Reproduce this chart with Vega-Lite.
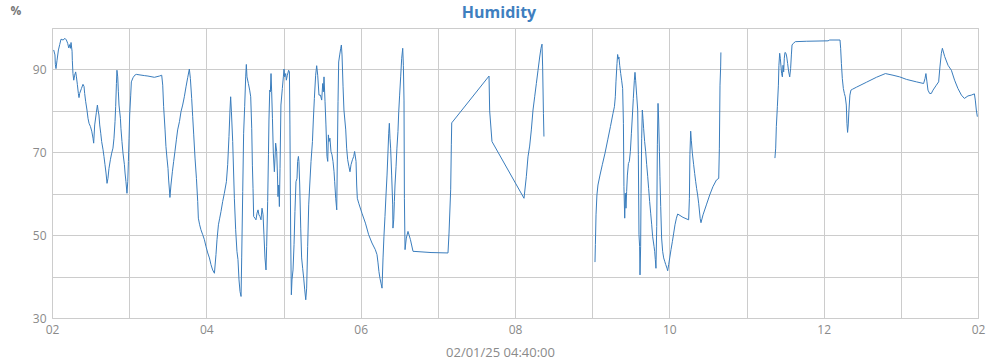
{
"$schema":"https://vega.github.io/schema/vega-lite/v6.json",
"width":926,"height":290,
"autosize":"none",
"padding":{"left":52,"top":28,"right":22,"bottom":42},
"background":"white",
"title":{"text":"Humidity","anchor":"middle","frame":"group","dx":-16,"offset":-17,"fontSize":16,"fontWeight":"bold","color":"#3f7fbf","font":"Open Sans"},
"config":{"view":{"stroke":"#cccccc"},"font":"Open Sans"},
"data":{"values":[
{"t":"2025-02-01T02:01:18","v":94.7,"s":1},{"t":"2025-02-01T02:02:18","v":93.5,"s":1},{"t":"2025-02-01T02:02:36","v":91.2,"s":1},{"t":"2025-02-01T02:03:06","v":90.2,"s":1},{"t":"2025-02-01T02:03:54","v":92.2,"s":1},{"t":"2025-02-01T02:05:00","v":94.7,"s":1},{"t":"2025-02-01T02:06:00","v":96,"s":1},{"t":"2025-02-01T02:07:00","v":97.3,"s":1},{"t":"2025-02-01T02:08:36","v":97.1,"s":1},{"t":"2025-02-01T02:10:06","v":97.5,"s":1},{"t":"2025-02-01T02:11:12","v":97.1,"s":1},{"t":"2025-02-01T02:12:12","v":96.3,"s":1},{"t":"2025-02-01T02:13:00","v":95.2,"s":1},{"t":"2025-02-01T02:13:48","v":96,"s":1},{"t":"2025-02-01T02:14:18","v":95.1,"s":1},{"t":"2025-02-01T02:14:48","v":96.5,"s":1},{"t":"2025-02-01T02:15:36","v":94.4,"s":1},{"t":"2025-02-01T02:15:48","v":92.2,"s":1},{"t":"2025-02-01T02:16:18","v":89,"s":1},{"t":"2025-02-01T02:16:54","v":87.4,"s":1},{"t":"2025-02-01T02:17:36","v":88.6,"s":1},{"t":"2025-02-01T02:18:24","v":89.4,"s":1},{"t":"2025-02-01T02:19:00","v":88.2,"s":1},{"t":"2025-02-01T02:19:42","v":86.4,"s":1},{"t":"2025-02-01T02:20:30","v":84.2,"s":1},{"t":"2025-02-01T02:21:00","v":83.2,"s":1},{"t":"2025-02-01T02:21:30","v":84.2,"s":1},{"t":"2025-02-01T02:22:54","v":85.4,"s":1},{"t":"2025-02-01T02:24:06","v":86.4,"s":1},{"t":"2025-02-01T02:24:54","v":85.9,"s":1},{"t":"2025-02-01T02:25:24","v":84.2,"s":1},{"t":"2025-02-01T02:26:12","v":82.2,"s":1},{"t":"2025-02-01T02:27:12","v":80.2,"s":1},{"t":"2025-02-01T02:28:00","v":78.2,"s":1},{"t":"2025-02-01T02:28:48","v":77,"s":1},{"t":"2025-02-01T02:29:54","v":76.2,"s":1},{"t":"2025-02-01T02:30:54","v":75.1,"s":1},{"t":"2025-02-01T02:31:54","v":73.4,"s":1},{"t":"2025-02-01T02:32:24","v":72.2,"s":1},{"t":"2025-02-01T02:33:12","v":76.6,"s":1},{"t":"2025-02-01T02:34:30","v":79.6,"s":1},{"t":"2025-02-01T02:35:18","v":81.4,"s":1},{"t":"2025-02-01T02:35:48","v":80.2,"s":1},{"t":"2025-02-01T02:36:30","v":79,"s":1},{"t":"2025-02-01T02:37:06","v":76.6,"s":1},{"t":"2025-02-01T02:37:54","v":74.6,"s":1},{"t":"2025-02-01T02:38:36","v":72.6,"s":1},{"t":"2025-02-01T02:39:42","v":70.6,"s":1},{"t":"2025-02-01T02:40:24","v":69,"s":1},{"t":"2025-02-01T02:41:12","v":67,"s":1},{"t":"2025-02-01T02:42:00","v":65,"s":1},{"t":"2025-02-01T02:42:48","v":62.5,"s":1},{"t":"2025-02-01T02:43:30","v":63.7,"s":1},{"t":"2025-02-01T02:44:18","v":66.1,"s":1},{"t":"2025-02-01T02:45:24","v":68.2,"s":1},{"t":"2025-02-01T02:46:24","v":69.8,"s":1},{"t":"2025-02-01T02:47:24","v":71,"s":1},{"t":"2025-02-01T02:48:12","v":73.4,"s":1},{"t":"2025-02-01T02:49:00","v":77.4,"s":1},{"t":"2025-02-01T02:49:30","v":81,"s":1},{"t":"2025-02-01T02:50:06","v":86.6,"s":1},{"t":"2025-02-01T02:50:30","v":89.8,"s":1},{"t":"2025-02-01T02:51:06","v":88.2,"s":1},{"t":"2025-02-01T02:51:36","v":84.6,"s":1},{"t":"2025-02-01T02:52:06","v":81.4,"s":1},{"t":"2025-02-01T02:53:12","v":78.2,"s":1},{"t":"2025-02-01T02:53:36","v":75.8,"s":1},{"t":"2025-02-01T02:54:24","v":72.6,"s":1},{"t":"2025-02-01T02:55:12","v":69.8,"s":1},{"t":"2025-02-01T02:56:18","v":67,"s":1},{"t":"2025-02-01T02:56:48","v":65,"s":1},{"t":"2025-02-01T02:57:30","v":62.9,"s":1},{"t":"2025-02-01T02:58:18","v":60.1,"s":1},{"t":"2025-02-01T02:58:54","v":62.9,"s":1},{"t":"2025-02-01T02:59:24","v":67.8,"s":1},{"t":"2025-02-01T02:59:54","v":73.4,"s":1},{"t":"2025-02-01T03:00:24","v":79,"s":1},{"t":"2025-02-01T03:01:12","v":83.8,"s":1},{"t":"2025-02-01T03:01:42","v":87,"s":1},{"t":"2025-02-01T03:03:00","v":88,"s":1},{"t":"2025-02-01T03:04:18","v":88.6,"s":1},{"t":"2025-02-01T03:05:36","v":88.8,"s":1},{"t":"2025-02-01T03:12:06","v":88.5,"s":1},{"t":"2025-02-01T03:14:36","v":88.4,"s":1},{"t":"2025-02-01T03:19:36","v":88.1,"s":1},{"t":"2025-02-01T03:23:30","v":88.4,"s":1},{"t":"2025-02-01T03:25:18","v":88.6,"s":1},{"t":"2025-02-01T03:26:06","v":86.2,"s":1},{"t":"2025-02-01T03:26:48","v":81,"s":1},{"t":"2025-02-01T03:27:54","v":75.4,"s":1},{"t":"2025-02-01T03:28:36","v":71.4,"s":1},{"t":"2025-02-01T03:29:24","v":68.6,"s":1},{"t":"2025-02-01T03:30:12","v":66.1,"s":1},{"t":"2025-02-01T03:30:42","v":63.3,"s":1},{"t":"2025-02-01T03:31:18","v":60.9,"s":1},{"t":"2025-02-01T03:31:42","v":59.1,"s":1},{"t":"2025-02-01T03:32:30","v":62.1,"s":1},{"t":"2025-02-01T03:33:36","v":65.3,"s":1},{"t":"2025-02-01T03:34:36","v":67.8,"s":1},{"t":"2025-02-01T03:35:36","v":70.2,"s":1},{"t":"2025-02-01T03:36:42","v":73,"s":1},{"t":"2025-02-01T03:37:42","v":75.4,"s":1},{"t":"2025-02-01T03:39:06","v":77.4,"s":1},{"t":"2025-02-01T03:40:18","v":79.8,"s":1},{"t":"2025-02-01T03:41:36","v":81.4,"s":1},{"t":"2025-02-01T03:42:54","v":83.4,"s":1},{"t":"2025-02-01T03:44:12","v":85.8,"s":1},{"t":"2025-02-01T03:45:30","v":88,"s":1},{"t":"2025-02-01T03:46:48","v":90.1,"s":1},{"t":"2025-02-01T03:47:36","v":87.8,"s":1},{"t":"2025-02-01T03:48:36","v":83,"s":1},{"t":"2025-02-01T03:49:24","v":78.6,"s":1},{"t":"2025-02-01T03:50:12","v":74.2,"s":1},{"t":"2025-02-01T03:51:12","v":68.6,"s":1},{"t":"2025-02-01T03:52:18","v":63.7,"s":1},{"t":"2025-02-01T03:53:18","v":58.1,"s":1},{"t":"2025-02-01T03:53:48","v":54.1,"s":1},{"t":"2025-02-01T03:54:48","v":52.5,"s":1},{"t":"2025-02-01T03:55:48","v":51.3,"s":1},{"t":"2025-02-01T03:57:12","v":50.1,"s":1},{"t":"2025-02-01T03:58:30","v":48.9,"s":1},{"t":"2025-02-01T03:59:42","v":47.3,"s":1},{"t":"2025-02-01T04:01:06","v":45.7,"s":1},{"t":"2025-02-01T04:02:24","v":44.5,"s":1},{"t":"2025-02-01T04:03:36","v":42.9,"s":1},{"t":"2025-02-01T04:04:54","v":41.6,"s":1},{"t":"2025-02-01T04:06:18","v":40.8,"s":1},{"t":"2025-02-01T04:07:30","v":45.3,"s":1},{"t":"2025-02-01T04:08:18","v":48.9,"s":1},{"t":"2025-02-01T04:09:24","v":52.5,"s":1},{"t":"2025-02-01T04:10:24","v":54.1,"s":1},{"t":"2025-02-01T04:11:24","v":55.7,"s":1},{"t":"2025-02-01T04:12:42","v":58.1,"s":1},{"t":"2025-02-01T04:14:00","v":60.1,"s":1},{"t":"2025-02-01T04:15:36","v":62.9,"s":1},{"t":"2025-02-01T04:16:36","v":67,"s":1},{"t":"2025-02-01T04:17:36","v":73.8,"s":1},{"t":"2025-02-01T04:18:24","v":80.2,"s":1},{"t":"2025-02-01T04:18:54","v":83.4,"s":1},{"t":"2025-02-01T04:19:30","v":79.8,"s":1},{"t":"2025-02-01T04:20:30","v":72.6,"s":1},{"t":"2025-02-01T04:21:48","v":58.9,"s":1},{"t":"2025-02-01T04:22:48","v":51.3,"s":1},{"t":"2025-02-01T04:23:48","v":46.1,"s":1},{"t":"2025-02-01T04:24:36","v":44.1,"s":1},{"t":"2025-02-01T04:25:24","v":39.2,"s":1},{"t":"2025-02-01T04:26:12","v":36.4,"s":1},{"t":"2025-02-01T04:27:00","v":35.2,"s":1},{"t":"2025-02-01T04:27:30","v":44.5,"s":1},{"t":"2025-02-01T04:28:18","v":60.5,"s":1},{"t":"2025-02-01T04:29:00","v":74.6,"s":1},{"t":"2025-02-01T04:29:48","v":81,"s":1},{"t":"2025-02-01T04:30:36","v":88.2,"s":1},{"t":"2025-02-01T04:31:06","v":91.2,"s":1},{"t":"2025-02-01T04:31:36","v":88.2,"s":1},{"t":"2025-02-01T04:32:42","v":86.6,"s":1},{"t":"2025-02-01T04:33:42","v":85,"s":1},{"t":"2025-02-01T04:34:30","v":83.4,"s":1},{"t":"2025-02-01T04:35:18","v":75.8,"s":1},{"t":"2025-02-01T04:35:48","v":66.9,"s":1},{"t":"2025-02-01T04:36:18","v":61.3,"s":1},{"t":"2025-02-01T04:36:48","v":54.5,"s":1},{"t":"2025-02-01T04:37:48","v":54.1,"s":1},{"t":"2025-02-01T04:38:36","v":53.7,"s":1},{"t":"2025-02-01T04:39:24","v":55.3,"s":1},{"t":"2025-02-01T04:40:12","v":56.1,"s":1},{"t":"2025-02-01T04:40:54","v":54.9,"s":1},{"t":"2025-02-01T04:41:42","v":54.5,"s":1},{"t":"2025-02-01T04:42:30","v":53.7,"s":1},{"t":"2025-02-01T04:43:18","v":56.5,"s":1},{"t":"2025-02-01T04:44:06","v":54.9,"s":1},{"t":"2025-02-01T04:44:48","v":50.1,"s":1},{"t":"2025-02-01T04:45:36","v":44.5,"s":1},{"t":"2025-02-01T04:46:24","v":41.6,"s":1},{"t":"2025-02-01T04:46:54","v":47.3,"s":1},{"t":"2025-02-01T04:47:42","v":58.1,"s":1},{"t":"2025-02-01T04:48:18","v":69.4,"s":1},{"t":"2025-02-01T04:48:42","v":77.8,"s":1},{"t":"2025-02-01T04:49:18","v":85,"s":1},{"t":"2025-02-01T04:49:48","v":84.6,"s":1},{"t":"2025-02-01T04:50:18","v":89,"s":1},{"t":"2025-02-01T04:50:48","v":84.6,"s":1},{"t":"2025-02-01T04:51:24","v":78.2,"s":1},{"t":"2025-02-01T04:52:06","v":69.8,"s":1},{"t":"2025-02-01T04:52:54","v":65.3,"s":1},{"t":"2025-02-01T04:53:24","v":68.6,"s":1},{"t":"2025-02-01T04:53:54","v":72.2,"s":1},{"t":"2025-02-01T04:54:42","v":70.2,"s":1},{"t":"2025-02-01T04:55:18","v":64.5,"s":1},{"t":"2025-02-01T04:55:42","v":59.3,"s":1},{"t":"2025-02-01T04:56:18","v":62.1,"s":1},{"t":"2025-02-01T04:56:48","v":56.9,"s":1},{"t":"2025-02-01T04:57:18","v":66.1,"s":1},{"t":"2025-02-01T04:58:00","v":81.4,"s":1},{"t":"2025-02-01T04:59:06","v":85.4,"s":1},{"t":"2025-02-01T04:59:54","v":88.2,"s":1},{"t":"2025-02-01T05:00:24","v":90.1,"s":1},{"t":"2025-02-01T05:00:54","v":88.2,"s":1},{"t":"2025-02-01T05:01:42","v":89,"s":1},{"t":"2025-02-01T05:02:12","v":87.4,"s":1},{"t":"2025-02-01T05:03:00","v":88.6,"s":1},{"t":"2025-02-01T05:04:00","v":89.8,"s":1},{"t":"2025-02-01T05:04:36","v":89.4,"s":1},{"t":"2025-02-01T05:05:00","v":76.6,"s":1},{"t":"2025-02-01T05:05:36","v":49.3,"s":1},{"t":"2025-02-01T05:06:06","v":35.6,"s":1},{"t":"2025-02-01T05:06:36","v":39.2,"s":1},{"t":"2025-02-01T05:07:24","v":41.6,"s":1},{"t":"2025-02-01T05:08:12","v":47.7,"s":1},{"t":"2025-02-01T05:08:54","v":55.7,"s":1},{"t":"2025-02-01T05:09:42","v":62.9,"s":1},{"t":"2025-02-01T05:10:30","v":63.7,"s":1},{"t":"2025-02-01T05:11:00","v":67.8,"s":1},{"t":"2025-02-01T05:11:36","v":69,"s":1},{"t":"2025-02-01T05:12:00","v":67.8,"s":1},{"t":"2025-02-01T05:12:36","v":62.1,"s":1},{"t":"2025-02-01T05:13:24","v":51.7,"s":1},{"t":"2025-02-01T05:14:06","v":44.5,"s":1},{"t":"2025-02-01T05:14:54","v":42,"s":1},{"t":"2025-02-01T05:15:42","v":39.6,"s":1},{"t":"2025-02-01T05:16:30","v":36.8,"s":1},{"t":"2025-02-01T05:17:18","v":34.4,"s":1},{"t":"2025-02-01T05:18:00","v":37.2,"s":1},{"t":"2025-02-01T05:18:48","v":47.3,"s":1},{"t":"2025-02-01T05:19:36","v":57.3,"s":1},{"t":"2025-02-01T05:20:24","v":62.1,"s":1},{"t":"2025-02-01T05:21:24","v":67.8,"s":1},{"t":"2025-02-01T05:22:30","v":72.6,"s":1},{"t":"2025-02-01T05:23:12","v":77.8,"s":1},{"t":"2025-02-01T05:24:00","v":83,"s":1},{"t":"2025-02-01T05:25:00","v":88.6,"s":1},{"t":"2025-02-01T05:25:48","v":90.9,"s":1},{"t":"2025-02-01T05:26:36","v":88.6,"s":1},{"t":"2025-02-01T05:27:36","v":83.8,"s":1},{"t":"2025-02-01T05:28:42","v":83.8,"s":1},{"t":"2025-02-01T05:29:42","v":82.6,"s":1},{"t":"2025-02-01T05:30:30","v":86.6,"s":1},{"t":"2025-02-01T05:31:00","v":84.6,"s":1},{"t":"2025-02-01T05:31:30","v":88.2,"s":1},{"t":"2025-02-01T05:32:18","v":82.2,"s":1},{"t":"2025-02-01T05:33:00","v":76.6,"s":1},{"t":"2025-02-01T05:33:48","v":69,"s":1},{"t":"2025-02-01T05:34:24","v":67.8,"s":1},{"t":"2025-02-01T05:34:54","v":74.2,"s":1},{"t":"2025-02-01T05:35:24","v":72.6,"s":1},{"t":"2025-02-01T05:36:06","v":73.4,"s":1},{"t":"2025-02-01T05:36:54","v":70.2,"s":1},{"t":"2025-02-01T05:37:42","v":69.4,"s":1},{"t":"2025-02-01T05:38:30","v":67.8,"s":1},{"t":"2025-02-01T05:39:18","v":65.3,"s":1},{"t":"2025-02-01T05:39:48","v":62.9,"s":1},{"t":"2025-02-01T05:40:36","v":58.9,"s":1},{"t":"2025-02-01T05:41:24","v":56.1,"s":1},{"t":"2025-02-01T05:41:54","v":69.8,"s":1},{"t":"2025-02-01T05:42:24","v":82.2,"s":1},{"t":"2025-02-01T05:42:54","v":91.8,"s":1},{"t":"2025-02-01T05:43:42","v":93.5,"s":1},{"t":"2025-02-01T05:44:30","v":95.1,"s":1},{"t":"2025-02-01T05:45:00","v":95.9,"s":1},{"t":"2025-02-01T05:45:30","v":93.5,"s":1},{"t":"2025-02-01T05:46:18","v":85.8,"s":1},{"t":"2025-02-01T05:47:00","v":80.2,"s":1},{"t":"2025-02-01T05:48:24","v":75.4,"s":1},{"t":"2025-02-01T05:49:06","v":71,"s":1},{"t":"2025-02-01T05:49:54","v":68.2,"s":1},{"t":"2025-02-01T05:50:54","v":66.5,"s":1},{"t":"2025-02-01T05:51:42","v":65.3,"s":1},{"t":"2025-02-01T05:52:30","v":67,"s":1},{"t":"2025-02-01T05:53:36","v":68.2,"s":1},{"t":"2025-02-01T05:54:36","v":69,"s":1},{"t":"2025-02-01T05:55:18","v":70.2,"s":1},{"t":"2025-02-01T05:56:24","v":67.8,"s":1},{"t":"2025-02-01T05:56:54","v":62.1,"s":1},{"t":"2025-02-01T05:57:24","v":58.9,"s":1},{"t":"2025-02-01T05:58:30","v":57.7,"s":1},{"t":"2025-02-01T06:01:00","v":55.3,"s":1},{"t":"2025-02-01T06:03:42","v":52.9,"s":1},{"t":"2025-02-01T06:06:12","v":50.1,"s":1},{"t":"2025-02-01T06:08:48","v":48.1,"s":1},{"t":"2025-02-01T06:11:24","v":46.5,"s":1},{"t":"2025-02-01T06:12:42","v":45.3,"s":1},{"t":"2025-02-01T06:13:30","v":43.3,"s":1},{"t":"2025-02-01T06:14:12","v":41.2,"s":1},{"t":"2025-02-01T06:15:00","v":39.6,"s":1},{"t":"2025-02-01T06:15:48","v":38.4,"s":1},{"t":"2025-02-01T06:16:36","v":37.2,"s":1},{"t":"2025-02-01T06:17:24","v":44.5,"s":1},{"t":"2025-02-01T06:18:06","v":49.7,"s":1},{"t":"2025-02-01T06:18:54","v":54.5,"s":1},{"t":"2025-02-01T06:19:42","v":59.7,"s":1},{"t":"2025-02-01T06:20:30","v":64.5,"s":1},{"t":"2025-02-01T06:21:12","v":69.8,"s":1},{"t":"2025-02-01T06:21:48","v":74.6,"s":1},{"t":"2025-02-01T06:22:18","v":77,"s":1},{"t":"2025-02-01T06:22:48","v":73.4,"s":1},{"t":"2025-02-01T06:23:18","v":71,"s":1},{"t":"2025-02-01T06:24:06","v":64.5,"s":1},{"t":"2025-02-01T06:24:54","v":57.3,"s":1},{"t":"2025-02-01T06:25:06","v":51.7,"s":1},{"t":"2025-02-01T06:25:42","v":53.7,"s":1},{"t":"2025-02-01T06:26:12","v":58.1,"s":1},{"t":"2025-02-01T06:26:42","v":62.1,"s":1},{"t":"2025-02-01T06:27:30","v":66.5,"s":1},{"t":"2025-02-01T06:28:12","v":71,"s":1},{"t":"2025-02-01T06:29:00","v":75,"s":1},{"t":"2025-02-01T06:29:36","v":79.8,"s":1},{"t":"2025-02-01T06:30:18","v":83.8,"s":1},{"t":"2025-02-01T06:31:06","v":88.2,"s":1},{"t":"2025-02-01T06:31:54","v":92.7,"s":1},{"t":"2025-02-01T06:32:42","v":95.1,"s":1},{"t":"2025-02-01T06:33:12","v":91,"s":1},{"t":"2025-02-01T06:33:42","v":82.6,"s":1},{"t":"2025-02-01T06:34:00","v":58.9,"s":1},{"t":"2025-02-01T06:34:30","v":46.5,"s":1},{"t":"2025-02-01T06:35:30","v":49.3,"s":1},{"t":"2025-02-01T06:36:48","v":50.9,"s":1},{"t":"2025-02-01T06:38:42","v":48.9,"s":1},{"t":"2025-02-01T06:40:42","v":46.1,"s":1},{"t":"2025-02-01T06:54:42","v":45.8,"s":1},{"t":"2025-02-01T07:07:54","v":45.7,"s":1},{"t":"2025-02-01T07:08:42","v":50.5,"s":1},{"t":"2025-02-01T07:10:00","v":61.1,"s":1},{"t":"2025-02-01T07:10:30","v":71.8,"s":1},{"t":"2025-02-01T07:10:48","v":77.1,"s":1},{"t":"2025-02-01T07:39:48","v":88.4,"s":1},{"t":"2025-02-01T07:40:18","v":80,"s":1},{"t":"2025-02-01T07:42:06","v":72.6,"s":1},{"t":"2025-02-01T08:07:00","v":58.9,"s":1},{"t":"2025-02-01T08:08:48","v":64.1,"s":1},{"t":"2025-02-01T08:10:06","v":68.9,"s":1},{"t":"2025-02-01T08:11:24","v":71.5,"s":1},{"t":"2025-02-01T08:12:42","v":75.4,"s":1},{"t":"2025-02-01T08:14:00","v":80.2,"s":1},{"t":"2025-02-01T08:15:18","v":83.4,"s":1},{"t":"2025-02-01T08:16:36","v":86.6,"s":1},{"t":"2025-02-01T08:17:54","v":89.8,"s":1},{"t":"2025-02-01T08:19:12","v":93,"s":1},{"t":"2025-02-01T08:20:12","v":95.1,"s":1},{"t":"2025-02-01T08:21:00","v":96.1,"s":1},{"t":"2025-02-01T08:21:30","v":90.6,"s":1},{"t":"2025-02-01T08:22:06","v":79.4,"s":1},{"t":"2025-02-01T08:22:30","v":73.8,"s":1},
{"t":"2025-02-01T09:02:12","v":43.5,"s":2},{"t":"2025-02-01T09:02:30","v":47.7,"s":2},{"t":"2025-02-01T09:03:00","v":54.9,"s":2},{"t":"2025-02-01T09:03:42","v":59.7,"s":2},{"t":"2025-02-01T09:04:30","v":62.1,"s":2},{"t":"2025-02-01T09:06:06","v":64.5,"s":2},{"t":"2025-02-01T09:07:54","v":67,"s":2},{"t":"2025-02-01T09:10:00","v":69.8,"s":2},{"t":"2025-02-01T09:12:06","v":73,"s":2},{"t":"2025-02-01T09:14:12","v":76.2,"s":2},{"t":"2025-02-01T09:16:12","v":79.4,"s":2},{"t":"2025-02-01T09:17:18","v":81,"s":2},{"t":"2025-02-01T09:18:00","v":83.4,"s":2},{"t":"2025-02-01T09:18:30","v":87,"s":2},{"t":"2025-02-01T09:19:18","v":91.4,"s":2},{"t":"2025-02-01T09:19:48","v":93.6,"s":2},{"t":"2025-02-01T09:20:24","v":92.5,"s":2},{"t":"2025-02-01T09:20:48","v":93,"s":2},{"t":"2025-02-01T09:21:24","v":91,"s":2},{"t":"2025-02-01T09:22:12","v":89,"s":2},{"t":"2025-02-01T09:22:54","v":87.4,"s":2},{"t":"2025-02-01T09:23:42","v":85.4,"s":2},{"t":"2025-02-01T09:24:18","v":77,"s":2},{"t":"2025-02-01T09:24:42","v":61.7,"s":2},{"t":"2025-02-01T09:25:18","v":54.1,"s":2},{"t":"2025-02-01T09:25:48","v":60.1,"s":2},{"t":"2025-02-01T09:26:18","v":56.5,"s":2},{"t":"2025-02-01T09:26:48","v":60.5,"s":2},{"t":"2025-02-01T09:27:24","v":64.5,"s":2},{"t":"2025-02-01T09:28:12","v":67.3,"s":2},{"t":"2025-02-01T09:28:54","v":67.8,"s":2},{"t":"2025-02-01T09:29:42","v":70.2,"s":2},{"t":"2025-02-01T09:30:30","v":74.6,"s":2},{"t":"2025-02-01T09:31:18","v":79,"s":2},{"t":"2025-02-01T09:32:00","v":83,"s":2},{"t":"2025-02-01T09:32:48","v":87.4,"s":2},{"t":"2025-02-01T09:33:18","v":89.3,"s":2},{"t":"2025-02-01T09:33:48","v":87.4,"s":2},{"t":"2025-02-01T09:34:36","v":83.8,"s":2},{"t":"2025-02-01T09:35:24","v":80.2,"s":2},{"t":"2025-02-01T09:35:54","v":69.4,"s":2},{"t":"2025-02-01T09:36:24","v":50.1,"s":2},{"t":"2025-02-01T09:36:54","v":47.3,"s":2},{"t":"2025-02-01T09:37:12","v":40.4,"s":2},{"t":"2025-02-01T09:37:42","v":47.3,"s":2},{"t":"2025-02-01T09:38:00","v":60.1,"s":2},{"t":"2025-02-01T09:38:30","v":73.4,"s":2},{"t":"2025-02-01T09:39:00","v":80.2,"s":2},{"t":"2025-02-01T09:39:30","v":78.2,"s":2},{"t":"2025-02-01T09:40:00","v":75.8,"s":2},{"t":"2025-02-01T09:40:48","v":72.6,"s":2},{"t":"2025-02-01T09:41:36","v":70.2,"s":2},{"t":"2025-02-01T09:42:24","v":67,"s":2},{"t":"2025-02-01T09:43:12","v":64.1,"s":2},{"t":"2025-02-01T09:43:54","v":61.3,"s":2},{"t":"2025-02-01T09:44:42","v":58.1,"s":2},{"t":"2025-02-01T09:45:30","v":55.3,"s":2},{"t":"2025-02-01T09:46:18","v":52.5,"s":2},{"t":"2025-02-01T09:47:00","v":49.7,"s":2},{"t":"2025-02-01T09:48:06","v":47.3,"s":2},{"t":"2025-02-01T09:48:36","v":46.1,"s":2},{"t":"2025-02-01T09:49:06","v":44.1,"s":2},{"t":"2025-02-01T09:49:36","v":42,"s":2},{"t":"2025-02-01T09:50:12","v":52.1,"s":2},{"t":"2025-02-01T09:50:42","v":71.8,"s":2},{"t":"2025-02-01T09:51:12","v":81.8,"s":2},{"t":"2025-02-01T09:51:42","v":77.8,"s":2},{"t":"2025-02-01T09:52:18","v":70.2,"s":2},{"t":"2025-02-01T09:52:42","v":64.1,"s":2},{"t":"2025-02-01T09:53:18","v":56.9,"s":2},{"t":"2025-02-01T09:54:00","v":49.3,"s":2},{"t":"2025-02-01T09:54:48","v":46.1,"s":2},{"t":"2025-02-01T09:55:36","v":44.5,"s":2},{"t":"2025-02-01T09:56:24","v":43.7,"s":2},{"t":"2025-02-01T09:57:12","v":42.9,"s":2},{"t":"2025-02-01T09:58:12","v":42,"s":2},{"t":"2025-02-01T09:58:42","v":41.4,"s":2},{"t":"2025-02-01T09:59:30","v":42.9,"s":2},{"t":"2025-02-01T10:00:18","v":44.5,"s":2},{"t":"2025-02-01T10:01:18","v":46.5,"s":2},{"t":"2025-02-01T10:02:24","v":48.5,"s":2},{"t":"2025-02-01T10:03:24","v":50.5,"s":2},{"t":"2025-02-01T10:04:24","v":52.5,"s":2},{"t":"2025-02-01T10:05:30","v":54.1,"s":2},{"t":"2025-02-01T10:06:30","v":55.1,"s":2},{"t":"2025-02-01T10:10:36","v":54.3,"s":2},{"t":"2025-02-01T10:15:00","v":53.7,"s":2},{"t":"2025-02-01T10:15:36","v":58.9,"s":2},{"t":"2025-02-01T10:16:00","v":69.4,"s":2},{"t":"2025-02-01T10:16:36","v":75.1,"s":2},{"t":"2025-02-01T10:17:06","v":72.9,"s":2},{"t":"2025-02-01T10:17:54","v":69.8,"s":2},{"t":"2025-02-01T10:18:54","v":67,"s":2},{"t":"2025-02-01T10:19:42","v":64.9,"s":2},{"t":"2025-02-01T10:20:30","v":62.9,"s":2},{"t":"2025-02-01T10:21:12","v":61.3,"s":2},{"t":"2025-02-01T10:22:00","v":59.7,"s":2},{"t":"2025-02-01T10:22:48","v":57.7,"s":2},{"t":"2025-02-01T10:24:00","v":54,"s":2},{"t":"2025-02-01T10:24:36","v":53,"s":2},{"t":"2025-02-01T10:26:12","v":54.9,"s":2},{"t":"2025-02-01T10:28:48","v":57.3,"s":2},{"t":"2025-02-01T10:31:24","v":59.7,"s":2},{"t":"2025-02-01T10:33:54","v":61.7,"s":2},{"t":"2025-02-01T10:36:36","v":63.3,"s":2},{"t":"2025-02-01T10:38:24","v":63.7,"s":2},{"t":"2025-02-01T10:38:54","v":71,"s":2},{"t":"2025-02-01T10:39:24","v":86.2,"s":2},{"t":"2025-02-01T10:39:54","v":90.6,"s":2},{"t":"2025-02-01T10:40:06","v":94.1,"s":2},
{"t":"2025-02-01T11:22:06","v":68.6,"s":3},{"t":"2025-02-01T11:22:42","v":71,"s":3},{"t":"2025-02-01T11:23:12","v":76.2,"s":3},{"t":"2025-02-01T11:24:00","v":81,"s":3},{"t":"2025-02-01T11:24:48","v":86.2,"s":3},{"t":"2025-02-01T11:25:12","v":91,"s":3},{"t":"2025-02-01T11:25:48","v":93.9,"s":3},{"t":"2025-02-01T11:26:18","v":92.7,"s":3},{"t":"2025-02-01T11:27:18","v":89,"s":3},{"t":"2025-02-01T11:27:54","v":88.2,"s":3},{"t":"2025-02-01T11:28:24","v":91,"s":3},{"t":"2025-02-01T11:28:54","v":89.4,"s":3},{"t":"2025-02-01T11:29:24","v":92.7,"s":3},{"t":"2025-02-01T11:29:54","v":94.1,"s":3},{"t":"2025-02-01T11:30:42","v":93.9,"s":3},{"t":"2025-02-01T11:31:18","v":93,"s":3},{"t":"2025-02-01T11:32:00","v":91.4,"s":3},{"t":"2025-02-01T11:32:48","v":89.4,"s":3},{"t":"2025-02-01T11:33:36","v":88.2,"s":3},{"t":"2025-02-01T11:34:18","v":90.2,"s":3},{"t":"2025-02-01T11:34:54","v":93.5,"s":3},{"t":"2025-02-01T11:35:24","v":95.9,"s":3},{"t":"2025-02-01T11:36:24","v":96.3,"s":3},{"t":"2025-02-01T11:38:00","v":96.7,"s":3},{"t":"2025-02-01T11:46:30","v":96.8,"s":3},{"t":"2025-02-01T12:03:24","v":96.9,"s":3},{"t":"2025-02-01T12:04:42","v":97.1,"s":3},{"t":"2025-02-01T12:12:42","v":97.1,"s":3},{"t":"2025-02-01T12:13:12","v":95.1,"s":3},{"t":"2025-02-01T12:13:48","v":91.4,"s":3},{"t":"2025-02-01T12:14:30","v":87.8,"s":3},{"t":"2025-02-01T12:15:18","v":85.4,"s":3},{"t":"2025-02-01T12:16:06","v":84.2,"s":3},{"t":"2025-02-01T12:16:48","v":83.4,"s":3},{"t":"2025-02-01T12:17:36","v":81.4,"s":3},{"t":"2025-02-01T12:18:06","v":77,"s":3},{"t":"2025-02-01T12:18:36","v":74.8,"s":3},{"t":"2025-02-01T12:19:06","v":76.6,"s":3},{"t":"2025-02-01T12:19:36","v":79.8,"s":3},{"t":"2025-02-01T12:20:24","v":83.8,"s":3},{"t":"2025-02-01T12:21:12","v":85,"s":3},{"t":"2025-02-01T12:22:18","v":85.2,"s":3},{"t":"2025-02-01T12:25:24","v":85.7,"s":3},{"t":"2025-02-01T12:33:12","v":86.9,"s":3},{"t":"2025-02-01T12:41:00","v":88.1,"s":3},{"t":"2025-02-01T12:48:00","v":89,"s":3},{"t":"2025-02-01T12:53:54","v":88.6,"s":3},{"t":"2025-02-01T12:59:06","v":88.2,"s":3},{"t":"2025-02-01T13:04:18","v":87.6,"s":3},{"t":"2025-02-01T13:12:06","v":87,"s":3},{"t":"2025-02-01T13:17:42","v":86.6,"s":3},{"t":"2025-02-01T13:18:48","v":87.8,"s":3},{"t":"2025-02-01T13:19:30","v":89,"s":3},{"t":"2025-02-01T13:20:18","v":87,"s":3},{"t":"2025-02-01T13:21:06","v":85,"s":3},{"t":"2025-02-01T13:22:24","v":84.2,"s":3},{"t":"2025-02-01T13:23:42","v":84.2,"s":3},{"t":"2025-02-01T13:25:00","v":85,"s":3},{"t":"2025-02-01T13:27:36","v":86.2,"s":3},{"t":"2025-02-01T13:29:24","v":87,"s":3},{"t":"2025-02-01T13:30:24","v":90.6,"s":3},{"t":"2025-02-01T13:31:30","v":93.9,"s":3},{"t":"2025-02-01T13:32:18","v":95.1,"s":3},{"t":"2025-02-01T13:34:06","v":93.1,"s":3},{"t":"2025-02-01T13:36:42","v":91,"s":3},{"t":"2025-02-01T13:39:18","v":89.8,"s":3},{"t":"2025-02-01T13:41:48","v":87.4,"s":3},{"t":"2025-02-01T13:44:24","v":85.4,"s":3},{"t":"2025-02-01T13:47:06","v":83.8,"s":3},{"t":"2025-02-01T13:49:24","v":83,"s":3},{"t":"2025-02-01T13:52:12","v":83.6,"s":3},{"t":"2025-02-01T13:54:48","v":83.8,"s":3},{"t":"2025-02-01T13:57:12","v":84.1,"s":3},{"t":"2025-02-01T13:57:54","v":82.6,"s":3},{"t":"2025-02-01T13:58:42","v":80.2,"s":3},{"t":"2025-02-01T13:59:30","v":78.6,"s":3}
]},
"mark":{"type":"line","color":"#3a7dbd","strokeWidth":1},
"encoding":{
"x":{"field":"t","type":"temporal",
"scale":{"domain":[{"year":2025,"month":2,"date":1,"hours":2},{"year":2025,"month":2,"date":1,"hours":14}]},
"axis":{"values":[{"year":2025,"month":2,"date":1,"hours":2},{"year":2025,"month":2,"date":1,"hours":3},{"year":2025,"month":2,"date":1,"hours":4},{"year":2025,"month":2,"date":1,"hours":5},{"year":2025,"month":2,"date":1,"hours":6},{"year":2025,"month":2,"date":1,"hours":7},{"year":2025,"month":2,"date":1,"hours":8},{"year":2025,"month":2,"date":1,"hours":9},{"year":2025,"month":2,"date":1,"hours":10},{"year":2025,"month":2,"date":1,"hours":11},{"year":2025,"month":2,"date":1,"hours":12},{"year":2025,"month":2,"date":1,"hours":13},{"year":2025,"month":2,"date":1,"hours":14}],
"labelExpr":"hours(datum.value) % 2 == 0 ? timeFormat(datum.value, '%I') : ''",
"ticks":false,"domain":false,"grid":true,"gridColor":"#cccccc","labelColor":"#8a8a8a","labelFontSize":12,"labelPadding":6,"labelFlush":false,"labelOverlap":false,
"title":"02/01/25 04:40:00","titleColor":"#8a8a8a","titleFontSize":13,"titleFontWeight":"normal","titleX":448,"titleY":38,"titleBaseline":"alphabetic"}},
"y":{"field":"v","type":"quantitative",
"scale":{"domain":[30,100],"nice":false,"zero":false},
"axis":{"values":[30,40,50,60,70,80,90,100],"labelExpr":"datum.value % 20 == 10 ? datum.label : ''",
"ticks":false,"domain":false,"grid":true,"gridColor":"#cccccc","labelColor":"#8a8a8a","labelFontSize":12,"labelPadding":6,
"title":"%","titleAngle":0,"titleX":-42,"titleY":-18,"titleAlign":"left","titleBaseline":"middle","titleFontWeight":"bold","titleColor":"#777777","titleFontSize":12}},
"detail":{"field":"s","type":"nominal"}
}
}
